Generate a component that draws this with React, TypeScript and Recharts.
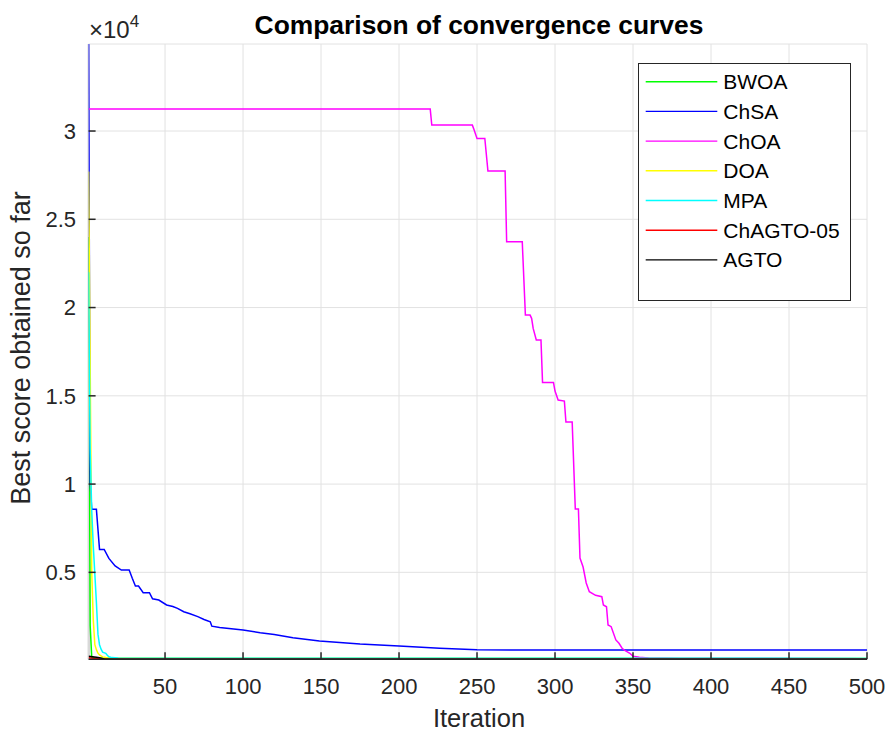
import { LineChart, Line, XAxis, YAxis, CartesianGrid } from "recharts";

// Best score per iteration, [iteration, score] pairs at each change of slope
const bwoa: [number, number][] = [
    [1, 24000], [2, 2000], [3, 200], [5, 150], [20, 125], [500, 120],
];
const chsa: [number, number][] = [
    [1, 34930], [2, 10100], [3, 8570], [6, 8570], [8, 6300], [11, 6300], [14, 5790],
    [18, 5360], [22, 5130], [27, 5130], [29, 4660], [31, 4225], [33, 4225], [36, 3845],
    [40, 3845], [42, 3500], [46, 3430], [51, 3150], [55, 3060], [58, 2960], [62, 2770],
    [66, 2650], [71, 2490], [75, 2330], [79, 2200], [80, 1950], [85, 1880], [94, 1790],
    [100, 1730], [111, 1580], [120, 1480], [132, 1300], [149, 1110], [175, 940],
    [200, 827], [226, 697], [250, 610], [300, 600], [500, 595],
];
const choa: [number, number][] = [
    [1, 31243], [220, 31243], [221, 30335], [247, 30335], [248, 30100], [250, 29580],
    [255, 29580], [257, 27730], [268, 27730], [269, 23726], [279, 23726], [281, 19575],
    [284, 19575], [285, 19390], [286, 18820], [288, 18160], [291, 18160], [292, 15760],
    [299, 15760], [300, 15270], [302, 14760], [306, 14700], [307, 13514], [311, 13514],
    [313, 8590], [315, 8590], [316, 5810], [318, 5300], [320, 4400], [322, 3900],
    [326, 3700], [330, 3620], [331, 3150], [333, 3050], [334, 2016], [336, 1920],
    [339, 1170], [341, 980], [343, 700], [345, 560], [348, 415], [350, 245], [354, 190],
    [360, 150], [380, 120], [500, 110],
];
const doa: [number, number][] = [
    [1, 27700], [2, 17000], [3, 5000], [4, 2300], [5, 900], [6, 620], [7, 420], [8, 320],
    [10, 210], [12, 170], [16, 145], [30, 130], [100, 120], [500, 110],
];
const mpa: [number, number][] = [
    [1, 22000], [2, 12000], [3, 8500], [4, 6500], [5, 4900], [6, 3300], [7, 1500],
    [8, 900], [9, 650], [10, 480], [12, 415], [13, 300], [14, 220], [16, 170], [20, 150],
    [40, 140], [500, 125],
];
const chagto05: [number, number][] = [
    [1, 160], [4, 130], [8, 100], [12, 80], [20, 74], [500, 74],
];
const agto: [number, number][] = [
    [1, 250], [6, 190], [8, 160], [11, 95], [20, 82], [500, 78],
];

const seriesNames = ["BWOA", "ChSA", "ChOA", "DOA", "MPA", "ChAGTO-05", "AGTO"];
const seriesColors = ["#00ff00", "#0000ff", "#ff00ff", "#ffff00", "#00ffff", "#ff0000", "#000000"];
const seriesPoints = [bwoa, chsa, choa, doa, mpa, chagto05, agto];

const xTicks = [50, 100, 150, 200, 250, 300, 350, 400, 450, 500];
const yTicks = [5000, 10000, 15000, 20000, 25000, 30000];
const xDomain: [number, number] = [1, 500];
const yDomain: [number, number] = [74, 34930];

const FONT = "'Liberation Sans', Arial, sans-serif";
const AXIS = "#262626";

// plot box edges inside the 891x736 frame
const PLOT_LEFT = 88.6;
const PLOT_TOP = 44;
const PLOT_BOTTOM = 659.3;

const series = seriesNames.map((name, i) => ({
    name,
    color: seriesColors[i],
    rows: seriesPoints[i].map(([it, v]) => ({ it, v })),
}));

const formatY = (v: number) => String(v / 10000);

// MATLAB-style boxed legend, drawn in the overlay svg
const LegendBox = ({ x, y }: { x: number; y: number }) => (
    <g transform={`translate(${x}, ${y})`}>
        <rect x={0.5} y={0.5} width={212} height={237} fill="#fff" stroke={AXIS} strokeWidth={1} />
        {series.map((s, i) => {
            const cy = 18.7 + i * 29.7;
            return (
                <g key={s.name}>
                    <line x1={7.7} x2={79.3} y1={cy} y2={cy} stroke={s.color} strokeWidth={1.4} />
                    <text x={85.3} y={cy + 7.5} fontSize={21} fill="#000">
                        {s.name}
                    </text>
                </g>
            );
        })}
    </g>
);

export default function App() {
    return (
        <div style={{ position: "absolute", left: 0, top: 0, width: 891, height: 736, background: "#fff" }}>
            {/* left box edge sits under the curves */}
            <svg width={891} height={736} style={{ position: "absolute", left: 0, top: 0 }}>
                <line
                    x1={PLOT_LEFT}
                    x2={PLOT_LEFT}
                    y1={PLOT_TOP}
                    y2={PLOT_BOTTOM}
                    stroke="#8a8a8a"
                    strokeWidth={1.5}
                />
            </svg>
            <div style={{ position: "absolute", left: 0, top: 0 }}>
                <LineChart
                    width={891}
                    height={736}
                    margin={{ top: PLOT_TOP, right: 24, bottom: 736 - PLOT_BOTTOM - 30, left: 0 }}
                    style={{ fontFamily: FONT }}
                >
                    <CartesianGrid stroke="#e2e2e2" strokeWidth={1} />
                    <XAxis
                        type="number"
                        dataKey="it"
                        domain={xDomain}
                        ticks={xTicks}
                        allowDataOverflow
                        height={30}
                        tickSize={-7}
                        tickMargin={26}
                        axisLine={{ stroke: AXIS, strokeWidth: 1.5 }}
                        tickLine={{ stroke: AXIS, strokeWidth: 1.5 }}
                        tick={{ fontSize: 22, fill: AXIS }}
                    />
                    <XAxis
                        xAxisId="top"
                        orientation="top"
                        type="number"
                        dataKey="it"
                        domain={xDomain}
                        ticks={xTicks}
                        allowDataOverflow
                        height={0}
                        tickSize={-7}
                        tickFormatter={() => ""}
                        axisLine={{ stroke: "#777", strokeWidth: 1.5 }}
                        tickLine={{ stroke: AXIS, strokeWidth: 1.5 }}
                    />
                    <YAxis
                        type="number"
                        domain={yDomain}
                        ticks={yTicks}
                        allowDataOverflow
                        width={PLOT_LEFT}
                        tickSize={-7}
                        tickMargin={19.6}
                        tickFormatter={formatY}
                        axisLine={false}
                        tickLine={{ stroke: AXIS, strokeWidth: 1.5 }}
                        tick={{ fontSize: 22, fill: AXIS }}
                    />
                    <YAxis
                        yAxisId="right"
                        orientation="right"
                        type="number"
                        domain={yDomain}
                        ticks={yTicks}
                        allowDataOverflow
                        width={0}
                        tickSize={-7}
                        tickFormatter={() => ""}
                        axisLine={{ stroke: AXIS, strokeWidth: 1.5 }}
                        tickLine={{ stroke: AXIS, strokeWidth: 1.5 }}
                    />
                    {series.map((s) => (
                        <Line
                            key={s.name}
                            name={s.name}
                            data={s.rows}
                            dataKey="v"
                            type="linear"
                            stroke={s.color}
                            strokeWidth={1.5}
                            dot={false}
                            isAnimationActive={false}
                        />
                    ))}
                </LineChart>
            </div>
            {/* title, axis labels, exponent and legend */}
            <svg
                width={891}
                height={736}
                style={{ position: "absolute", left: 0, top: 0, pointerEvents: "none", fontFamily: FONT }}
            >
                <text x={479} y={34} textAnchor="middle" fontSize={26.4} fontWeight="bold" fill="#000">
                    Comparison of convergence curves
                </text>
                <text x={479} y={727} textAnchor="middle" fontSize={25.5} fill={AXIS}>
                    Iteration
                </text>
                <text
                    x={0}
                    y={0}
                    transform="translate(30, 348) rotate(-90)"
                    textAnchor="middle"
                    fontSize={27}
                    fill={AXIS}
                >
                    Best score obtained so far
                </text>
                <text x={89} y={38} fontSize={24} fill={AXIS}>
                    ×10
                    <tspan fontSize={17} dy={-11}>4</tspan>
                </text>
                <LegendBox x={638} y={63} />
            </svg>
        </div>
    );
}
